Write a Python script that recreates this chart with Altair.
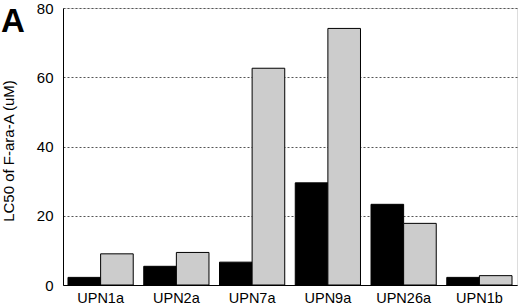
import altair as alt
import pandas as pd

categories = ["UPN1a", "UPN2a", "UPN7a", "UPN9a", "UPN26a", "UPN1b"]
series_names = ["Series 1", "Series 2"]
values_s1 = [2.2, 5.4, 6.6, 29.5, 23.3, 2.2]
values_s2 = [9.0, 9.4, 62.6, 74.1, 17.8, 2.7]
y_ticks = [0, 20, 40, 60, 80]

rows = []
for c, a, b in zip(categories, values_s1, values_s2):
    rows.append({"cat": c, "series": series_names[0], "val": a})
    rows.append({"cat": c, "series": series_names[1], "val": b})
df = pd.DataFrame(rows)

FONT = "Liberation Sans"

bars = alt.Chart(df).mark_bar(stroke="black", strokeWidth=1).encode(
    x=alt.X("cat:N", sort=categories,
            scale=alt.Scale(paddingInner=0.139, paddingOuter=0.066),
            axis=alt.Axis(title=None, labelAngle=0, ticks=False, domain=True,
                          domainColor="black", labelFontSize=14.5, labelFont=FONT,
                          labelColor="black", labelPadding=6)),
    xOffset=alt.XOffset("series:N", sort=series_names,
                        scale=alt.Scale(paddingInner=0, paddingOuter=0)),
    y=alt.Y("val:Q", scale=alt.Scale(domain=[0, 80], nice=False),
            axis=alt.Axis(title="LC50 of F-ara-A (uM)", values=y_ticks, ticks=False,
                          domain=True, domainColor="black",
                          grid=True, gridDash=[2, 2], gridColor="#555555", gridWidth=1,
                          labelFontSize=15, labelFont=FONT, labelColor="black",
                          labelPadding=10,
                          titleFont=FONT, titleFontSize=15, titleFontWeight="normal",
                          titleColor="black", titleX=-49.5, titleY=142.5,
                          titleAngle=270, titleBaseline="alphabetic", titleAlign="center")),
    color=alt.Color("series:N", sort=series_names,
                    scale=alt.Scale(domain=series_names, range=["#000000", "#cccccc"]),
                    legend=None),
)

label = alt.Chart(pd.DataFrame({"t": ["A"]})).mark_text(
    font=FONT, fontSize=33, fontWeight="bold", align="left", baseline="alphabetic",
    color="black"
).encode(text="t:N", x=alt.value(-62), y=alt.value(24))

chart = alt.layer(bars, label).properties(
    width=454, height=277,
    autosize=alt.AutoSizeParams(type="none"),
    padding={"left": 63, "top": 8, "right": 3, "bottom": 22},
).configure_view(stroke="black", strokeWidth=1).configure(background="white")

chart.save("out.html", embed_options={"renderer": "svg", "actions": False})
